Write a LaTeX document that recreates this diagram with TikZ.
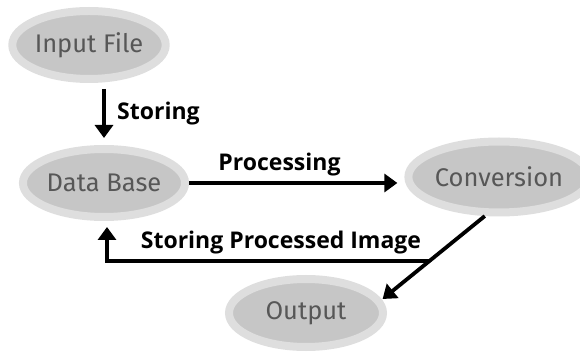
\documentclass[tikz,border=0pt]{standalone}
\usepackage{fontspec}
\setmainfont{Open Sans}
\newfontfamily\nodefont{Fira Sans}
\usetikzlibrary{arrows.meta,positioning,calc,shapes.geometric}
\definecolor{ringgray}{HTML}{DEDEDE}
\definecolor{fillgray}{HTML}{C6C6C6}
\definecolor{textgray}{HTML}{575757}
\tikzset{
    stage/.style={draw=ringgray,line width=8pt,fill=fillgray,shape=ellipse,
        minimum width=146pt,minimum height=68pt,inner sep=0pt,
        text=textgray,font=\nodefont\fontsize{25.5}{25.5}\selectfont},
    flow/.style={line width=3.8pt,-{Triangle[length=13pt,width=18pt]}},
    lbl/.style={font=\bfseries\fontsize{23}{23}\selectfont}
}

\begin{document}
\begin{tikzpicture}[x=1pt,y=-1pt]
    \useasboundingbox (0,0) rectangle (580,352);
    \node [stage](in) at (89,45) {Input File};
    \node [stage,minimum width=149pt](db) at (104,183) {Data Base};
    \node [stage,minimum width=154pt,minimum height=71pt](conv) at (499,177) {Conversion};
    \node [stage,minimum width=154pt](out) at (306,313) {Output};

    \draw[flow,shorten <=6pt,shorten >=7pt] (db.north |- in.south) -- node[lbl,right=8pt] {Storing} (db.north);
    \draw[flow,shorten >=7pt] (db.east) -- node[lbl,above=2pt,pos=0.42] {Processing} (db.east -| conv.west);
    \draw[flow,shorten >=1pt] (conv.250) -- coordinate[pos=0.54] (ret) (out.10);
    \draw[flow,shorten >=6pt] (ret) -| node[lbl,above=2pt,pos=0.23] {Storing Processed Image} ([xshift=3pt]db.south);
\end{tikzpicture}
\end{document}
